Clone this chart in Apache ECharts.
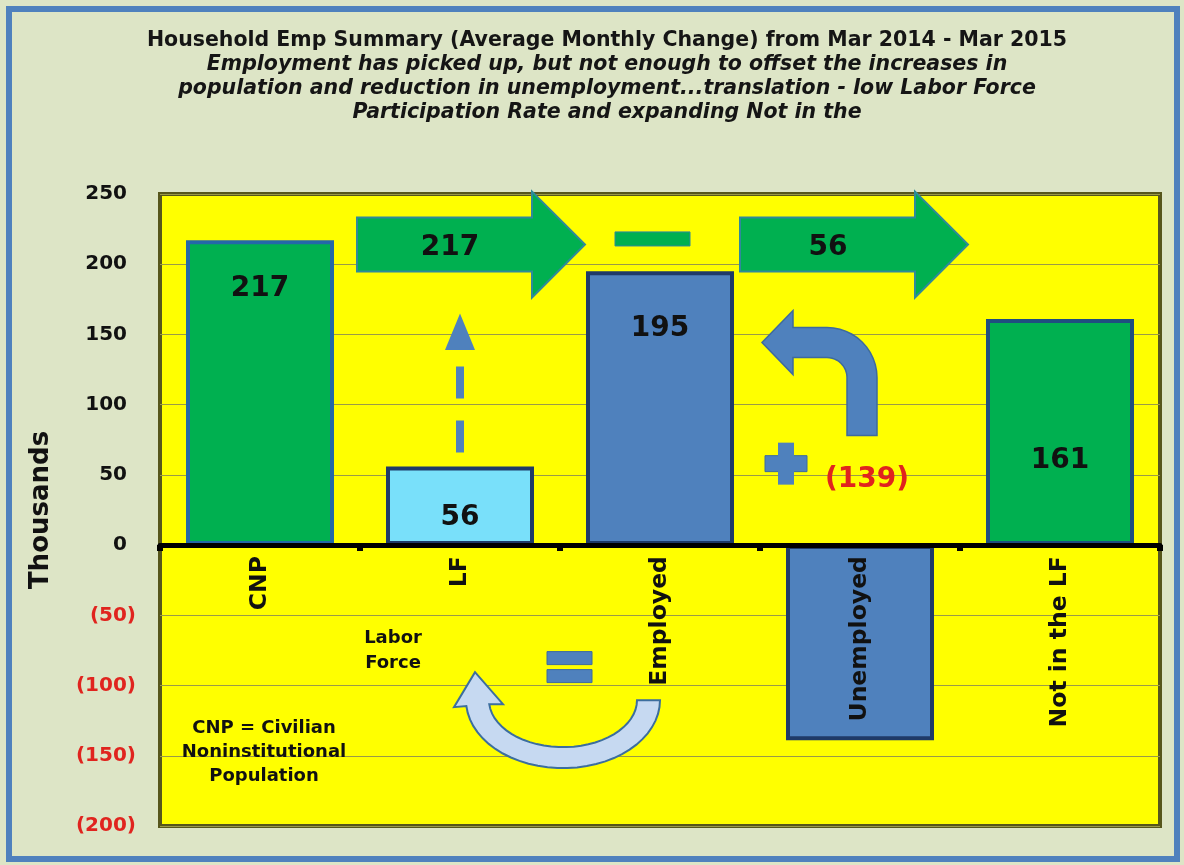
<!DOCTYPE html>
<html>
<head>
<meta charset="utf-8">
<title>Household Emp Summary</title>
<script src="https://cdn.jsdelivr.net/npm/echarts@6/dist/echarts.min.js"></script>
<style>
  html, body { margin: 0; padding: 0; background: #dde5c6; }
  #chart { width: 1184px; height: 865px; }
</style>
</head>
<body>
<div id="chart"></div>
<script>
// average monthly change, thousands (Mar 2014 - Mar 2015)
const categories = ['CNP', 'LF', 'Employed', 'Unemployed', 'Not in the LF'];
const changes = [217, 56, 195, -139, 161];
const yTicks = [-200, -150, -100, -50, 0, 50, 100, 150, 200, 250];

const FONT = '"DejaVu Sans", Verdana, sans-serif';
const GREEN = '#00b050';
const BLUE = '#4f81bd';

// (139) style for negatives, like the Excel number format
const fmt = v => (v < 0 ? '(' + Math.abs(v) + ')' : String(v));

const chart = echarts.init(document.getElementById('chart'));

const barStyle = {
  CNP: { color: GREEN, borderColor: '#2468a8', dist: 34 },
  LF: { color: '#79e0fa', borderColor: '#1f3a68', dist: 37 },
  Employed: { color: BLUE, borderColor: '#1f3a68', dist: 43 },
  Unemployed: { color: BLUE, borderColor: '#1f3a68', dist: 0 },
  'Not in the LF': { color: GREEN, borderColor: '#1f4e80', dist: 128 }
};

chart.setOption({
  backgroundColor: '#dde5c6',
  animation: false,
  title: {
    text: 'Household Emp Summary (Average Monthly Change) from Mar 2014 - Mar 2015',
    subtext: 'Employment has picked up, but not enough to offset the increases in\n' +
      'population and reduction in unemployment...translation - low Labor Force\n' +
      'Participation Rate and expanding Not in the',
    left: 602,
    top: 24,
    textAlign: 'center',
    itemGap: 0,
    textStyle: { fontFamily: FONT, fontSize: 20.5, fontWeight: 'bold', color: '#151515', lineHeight: 24 },
    subtextStyle: { fontFamily: FONT, fontSize: 20.5, fontWeight: 'bold', fontStyle: 'italic', color: '#151515', lineHeight: 24 }
  },
  grid: {
    left: 160, right: 24, top: 194, bottom: 39,
    containLabel: false,
    outerBoundsMode: 'none',
    show: true,
    backgroundColor: '#ffff00',
    borderColor: '#56561c',
    borderWidth: 4
  },
  xAxis: {
    type: 'category',
    data: categories,
    z: 5,
    axisLine: { onZero: false, lineStyle: { color: '#000', width: 5 } },
    axisTick: { show: true, length: 6, lineStyle: { color: '#000', width: 6 } },
    axisLabel: {
      rotate: 90,
      margin: 11,
      fontFamily: FONT,
      fontSize: 23.5,
      fontWeight: 'bold',
      color: '#111'
    }
  },
  yAxis: {
    type: 'value',
    min: yTicks[0],
    max: yTicks[yTicks.length - 1],
    interval: 50,
    name: 'Thousands',
    nameLocation: 'middle',
    nameGap: 106,
    nameRotate: 90,
    nameTextStyle: { fontFamily: FONT, fontSize: 26, fontWeight: 'bold', color: '#111' },
    axisLine: { show: false },
    axisTick: { show: false },
    splitLine: { lineStyle: { color: '#9a9a48', width: 1 } },
    axisLabel: {
      margin: 24,
      formatter: v => (v < 0 ? '{n|' + fmt(v) + '}' : '{p|' + v + '}'),
      rich: {
        p: { fontFamily: FONT, fontSize: 20, fontWeight: 'bold', color: '#111', padding: [0, 9, 0, 0] },
        n: { fontFamily: FONT, fontSize: 20, fontWeight: 'bold', color: '#e0241e' }
      }
    }
  },
  series: [{
    type: 'bar',
    barWidth: '74%',
    data: changes.map((v, i) => {
      const s = barStyle[categories[i]];
      return {
        value: v,
        itemStyle: { color: s.color, borderColor: s.borderColor, borderWidth: 4 },
        label: v < 0 ? { show: false } : { distance: s.dist }
      };
    }),
    label: {
      show: true,
      position: 'insideTop',
      formatter: p => fmt(p.value),
      fontFamily: FONT,
      fontSize: 28,
      fontWeight: 'bold',
      color: '#111'
    }
  }]
});

// move the category axis (line, dots and labels) up to the zero line
const zeroY = chart.convertToPixel({ yAxisIndex: 0 }, 0);
const bottomY = chart.convertToPixel({ yAxisIndex: 0 }, yTicks[0]);
chart.setOption({ xAxis: { offset: zeroY - bottomY } });

// ---- annotations, anchored in axis units (category index, thousands) ----
function P(i, v) {
  const a = chart.convertToPixel({ xAxisIndex: 0 }, categories[0]);
  const b = chart.convertToPixel({ xAxisIndex: 0 }, categories[1]);
  return [a + (b - a) * i, chart.convertToPixel({ yAxisIndex: 0 }, v)];
}

function blockArrow(from, to, headLen, bodyHalf, headHalf) {
  const [x0, y] = from;
  const x1 = to[0];
  const hb = x1 - headLen;
  return [[x0, y - bodyHalf], [hb, y - bodyHalf], [hb, y - headHalf], [x1, y],
    [hb, y + headHalf], [hb, y + bodyHalf], [x0, y + bodyHalf]];
}

function bentArrow(base) {
  const [bx, by] = base;
  const pts = [[15, 0], [15, -58]];
  const cx = -35, cy = -58;
  for (let k = 1; k <= 12; k++) {
    const a = -Math.PI / 2 * k / 12;
    pts.push([cx + 50 * Math.cos(a), cy + 50 * Math.sin(a)]);
  }
  pts.push([-69, -108], [-69, -125], [-100, -93], [-69, -61], [-69, -78]);
  for (let k = 12; k >= 0; k--) {
    const a = -Math.PI / 2 * k / 12;
    pts.push([cx + 20 * Math.cos(a), cy + 20 * Math.sin(a)]);
  }
  pts.push([-15, 0]);
  return pts.map(([x, y]) => [bx + x, by + y]);
}

function curvedArrow(c) {
  const [cx, cy] = c;
  const end = 175 * Math.PI / 180;
  const pts = [];
  for (let k = 0; k <= 30; k++) {
    const a = end * k / 30;
    pts.push([cx + 97 * Math.cos(a), cy + 68 * Math.sin(a)]);
  }
  pts.push([cx - 109, cy + 7], [cx - 88, cy - 28], [cx - 60, cy + 4]);
  for (let k = 30; k >= 0; k--) {
    const a = end * k / 30;
    pts.push([cx + 74 * Math.cos(a), cy + 47 * Math.sin(a)]);
  }
  return pts;
}

function rectBetween(p, q) {
  return { x: Math.min(p[0], q[0]), y: Math.min(p[1], q[1]), width: Math.abs(q[0] - p[0]), height: Math.abs(q[1] - p[1]) };
}

const boldText = (pos, text, size, color, lineHeight) => ({
  type: 'text', x: pos[0], y: pos[1], z: 20,
  style: {
    text, fill: color, font: 'bold ' + size + 'px ' + FONT,
    lineHeight: lineHeight || size,
    textAlign: 'center', textVerticalAlign: 'middle'
  }
});

const arrowStyle = { fill: GREEN, stroke: '#2f8a9a', lineWidth: 2 };
const dashTop = P(1, 128);
const dashBot = P(1, 66);
const triTip = P(1, 165);
const triBase = P(1, 139);
const plusC = P(2.63, 58);
const eqC = P(1.545, -86.5);

const graphic = [
  { type: 'rect', z: -1, shape: { x: 9, y: 9, width: 1168, height: 850 }, style: { fill: 'none', stroke: '#4f81bd', lineWidth: 6 } },
  { type: 'polygon', z: 10, shape: { points: blockArrow(P(0.485, 214), P(1.625, 214), 53, 27, 53) }, style: arrowStyle },
  { type: 'polygon', z: 10, shape: { points: blockArrow(P(2.4, 214), P(3.54, 214), 53, 27, 53) }, style: arrowStyle },
  boldText(P(0.95, 212), fmt(changes[0]), 28, '#111'),
  boldText(P(2.84, 212), fmt(changes[1]), 28, '#111'),
  { type: 'rect', z: 10, shape: rectBetween(P(1.775, 223), P(2.15, 213)), style: { fill: GREEN, stroke: '#2f8a9a', lineWidth: 1 } },
  { type: 'line', z: 10, shape: { x1: dashBot[0], y1: dashBot[1], x2: dashTop[0], y2: dashTop[1] }, style: { stroke: BLUE, lineWidth: 8, lineDash: [32, 22] } },
  { type: 'polygon', z: 10, shape: { points: [triTip, [triBase[0] - 15, triBase[1]], [triBase[0] + 15, triBase[1]]] }, style: { fill: BLUE } },
  { type: 'polygon', z: 10, shape: { points: bentArrow(P(3.01, 78)) }, style: { fill: BLUE, stroke: '#3d6a9e', lineWidth: 1.5 } },
  { type: 'rect', z: 10, shape: { x: plusC[0] - 21, y: plusC[1] - 8, width: 42, height: 16 }, style: { fill: BLUE, stroke: '#3d6a9e', lineWidth: 1 } },
  { type: 'rect', z: 10, shape: { x: plusC[0] - 8, y: plusC[1] - 21, width: 16, height: 42 }, style: { fill: BLUE } },
  boldText(P(3.035, 46.6), fmt(changes[3]), 28, '#e0241e'),
  { type: 'rect', z: 10, shape: { x: eqC[0] - 22, y: eqC[1] - 15, width: 45, height: 13 }, style: { fill: BLUE, stroke: '#3d6a9e', lineWidth: 1 } },
  { type: 'rect', z: 10, shape: { x: eqC[0] - 22, y: eqC[1] + 3, width: 45, height: 13 }, style: { fill: BLUE, stroke: '#3d6a9e', lineWidth: 1 } },
  { type: 'polygon', z: 10, shape: { points: curvedArrow(P(1.515, -110.4)) }, style: { fill: '#c6d9f1', stroke: '#3c6e9e', lineWidth: 2 } },
  boldText(P(0.665, -75.5), 'Labor\nForce', 18, '#111', 25),
  boldText(P(0.02, -147.4), 'CNP = Civilian\nNoninstitutional\nPopulation', 18, '#111', 24)
];

chart.setOption({ graphic });
</script>
</body>
</html>
